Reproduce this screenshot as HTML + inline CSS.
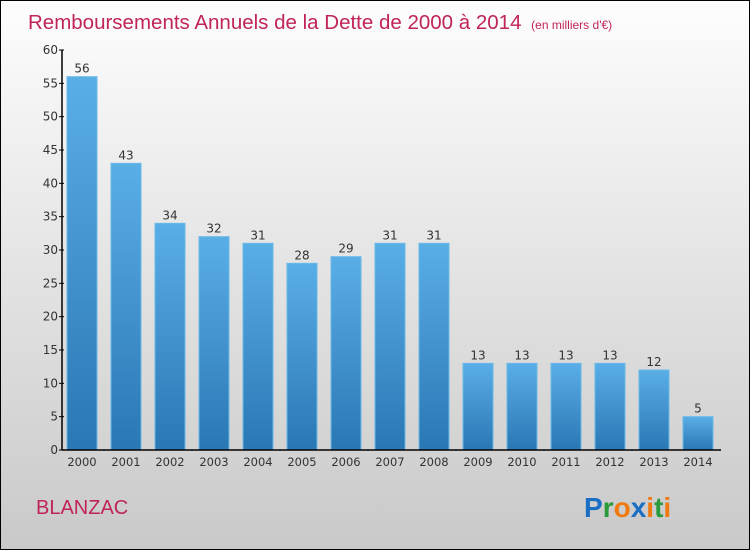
<!DOCTYPE html>
<html><head><meta charset="utf-8"><style>
body{margin:0;}
#wrap{width:748px;height:548px;border:1px solid #000;background:linear-gradient(#fdfdfd,#c9c9c9);position:relative;overflow:hidden;font-family:"DejaVu Sans","Liberation Sans",sans-serif;}
</style></head><body>
<div id="wrap">
<svg id="chart" width="748" height="548">
<defs><linearGradient id="bg" x1="0" y1="0" x2="0" y2="1"><stop offset="0" stop-color="#5aaee6"/><stop offset="1" stop-color="#2a77b5"/></linearGradient></defs>
<text x="27" y="28" font-size="20.5" fill="#c0245a" font-family="Liberation Sans, sans-serif">Remboursements Annuels de la Dette de 2000 à 2014 <tspan font-size="12" dx="4">(en milliers d'€)</tspan></text>
<text x="35" y="513" font-size="20" fill="#c0245a" font-family="Liberation Sans, sans-serif">BLANZAC</text>
<g font-family="Liberation Sans, sans-serif" font-size="28" font-weight="bold">
<text x="583" y="516"><tspan fill="#1a6fc4">P</tspan><tspan fill="#2a9a3a">r</tspan><tspan fill="#f07a10">o</tspan><tspan fill="#1a6fc4">x</tspan><tspan fill="#f07a10">i</tspan><tspan fill="#2a9a3a">t</tspan><tspan fill="#f07a10">i</tspan></text></g>
<g id="bars"></g><g id="axes"></g>
</svg></div>
<script>
const years=["2000","2001","2002","2003","2004","2005","2006","2007","2008","2009","2010","2011","2012","2013","2014"];
const values=[56,43,34,32,31,28,29,31,31,13,13,13,13,12,5];
const yTicks=[0,5,10,15,20,25,30,35,40,45,50,55,60];
const NS="http://www.w3.org/2000/svg";
const x0=61,y0=449,yTop=49,yMax=60,pitch=44,bw=30,off=5;
const ys=v=>y0-(v/yMax)*(y0-yTop);
const xs=i=>x0+off+i*pitch;
function mk(t,a,p){const e=document.createElementNS(NS,t);for(const k in a)e.setAttribute(k,a[k]);p.appendChild(e);return e;}
const bars=document.getElementById('bars'),axes=document.getElementById('axes');
values.forEach((v,i)=>{
const r=mk('rect',{x:xs(i),y:ys(v),width:bw,height:y0-ys(v),fill:'url(#bg)',stroke:'#6bb8ea','stroke-width':1},bars);


const t=mk('text',{x:xs(i)+bw/2,y:ys(v)-4,'font-size':12,fill:'#333','text-anchor':'middle'},bars);t.textContent=v;


const xl=mk('text',{x:xs(i)+bw/2,y:y0+16,'font-size':11.5,fill:'#333','text-anchor':'middle'},axes);xl.textContent=years[i];


});
const ya=mk('line',{x1:x0,y1:yTop,x2:x0,y2:y0,stroke:'#000','stroke-width':1.5},axes);


const xa=mk('line',{x1:x0,y1:y0,x2:720,y2:y0,stroke:'#000','stroke-width':1.5},axes);


yTicks.forEach(v=>{
mk('line',{x1:x0-3,y1:ys(v),x2:x0+2,y2:ys(v),stroke:'#000'},axes);
const t=mk('text',{x:x0-4,y:ys(v)+4,'font-size':12,fill:'#333','text-anchor':'end'},axes);t.textContent=v;


});
</script>
</body></html>
